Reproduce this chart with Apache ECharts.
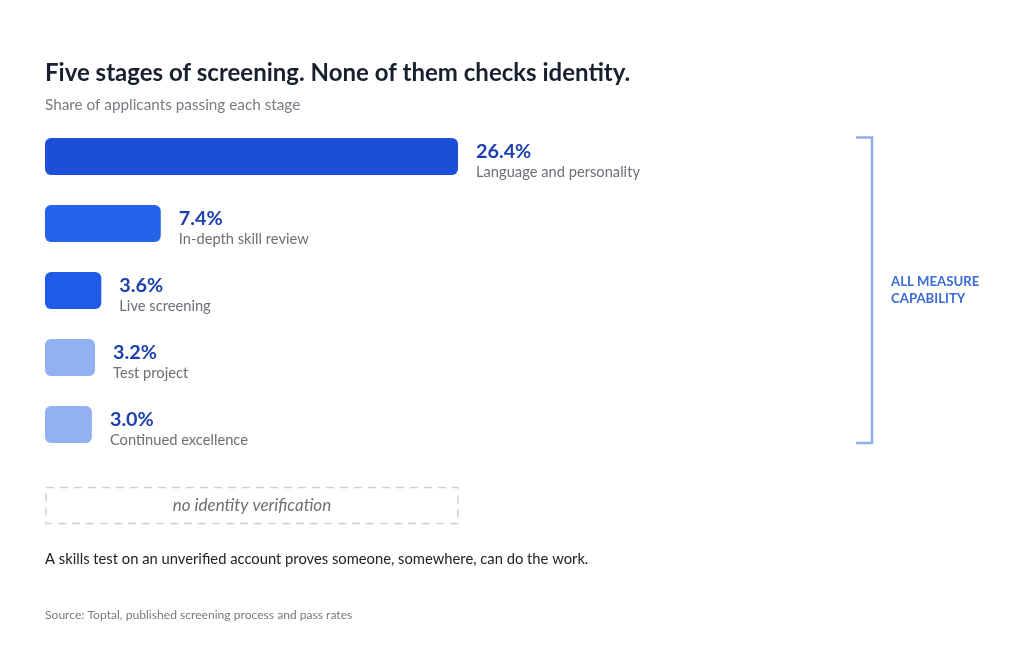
<!DOCTYPE html>
<html>
<head>
    <meta charset="utf-8">
    <script src="https://cdn.jsdelivr.net/npm/echarts@6/dist/echarts.min.js"></script>
    <style>
        html, body { margin: 0; padding: 0; background: #fff; }
    </style>
</head>
<body>
<div id="main" style="width: 1024px;height:666px;"></div>
<script>
    // screening stages, top to bottom
    var stages = ['Language and personality', 'In-depth skill review', 'Live screening', 'Test project', 'Continued excellence'];
    var passRates = [26.4, 7.4, 3.6, 3.2, 3.0];

    var barColors = ['#1d4ed8', '#2563eb', '#1f5ae8', '#93b0f2', '#93b0f2'];
    var font = 'Lato, "Open Sans", sans-serif';

    var myChart = echarts.init(document.getElementById('main'));

    var option = {
        backgroundColor: '#ffffff',
        animation: false,
        title: {
            text: 'Five stages of screening. None of them checks identity.',
            subtext: 'Share of applicants passing each stage',
            left: 45,
            top: 61,
            padding: 0,
            itemGap: 13,
            textStyle: { fontFamily: font, fontSize: 24, fontWeight: 'bold', color: '#1a1f2e' },
            subtextStyle: { fontFamily: font, fontSize: 15.3, color: '#777b82' }
        },
        grid: { left: 45, top: 123, width: 413, height: 335 },
        xAxis: {
            type: 'value',
            min: 0,
            max: 26.4,
            show: false
        },
        yAxis: {
            type: 'category',
            data: stages,
            inverse: true,
            show: false
        },
        series: [{
            type: 'bar',
            barWidth: 37,
            data: passRates,
            itemStyle: {
                borderRadius: 6,
                color: function (p) { return barColors[p.dataIndex]; }
            },
            label: {
                show: true,
                position: 'right',
                distance: 18,
                offset: [0, 5],
                formatter: function (p) {
                    return '{v|' + p.value.toFixed(1) + '%}\n{c|' + p.name + '}';
                },
                rich: {
                    v: { fontFamily: font, fontSize: 19.8, fontWeight: 'bold', color: '#1e40af', lineHeight: 22 },
                    c: { fontFamily: font, fontSize: 14.7, color: '#6b6f76', lineHeight: 20 }
                }
            }
        }],
        graphic: [
            // bracket on the right
            {
                type: 'polyline',
                shape: { points: [[856, 137.5], [872, 137.5], [872, 443], [856, 443]] },
                style: { stroke: '#8eaee8', lineWidth: 2.5, fill: null }
            },
            {
                type: 'text',
                left: 891,
                top: 273,
                style: {
                    text: 'ALL MEASURE\nCAPABILITY',
                    fontFamily: font,
                    fontSize: 13.2,
                    fontWeight: 'bold',
                    lineHeight: 17,
                    fill: '#3a6bd6'
                }
            },
            // dashed box
            {
                type: 'rect',
                shape: { x: 46, y: 487.5, width: 412, height: 36 },
                style: { fill: null, stroke: '#d0d0d0', lineWidth: 1.5, lineDash: [8, 6] }
            },
            {
                type: 'text',
                x: 252,
                y: 505.5,
                style: {
                    text: 'no identity verification',
                    fontFamily: font,
                    fontSize: 17,
                    fontStyle: 'italic',
                    fill: '#707070',
                    align: 'center',
                    verticalAlign: 'middle'
                }
            },
            {
                type: 'text',
                left: 45,
                top: 552,
                style: {
                    text: 'A skills test on an unverified account proves someone, somewhere, can do the work.',
                    fontFamily: font,
                    fontSize: 14.75,
                    fill: '#222222'
                }
            },
            {
                type: 'text',
                left: 45,
                top: 609,
                style: {
                    text: 'Source: Toptal, published screening process and pass rates',
                    fontFamily: font,
                    fontSize: 12.1,
                    fill: '#7a7a7a'
                }
            }
        ]
    };

    myChart.setOption(option);
</script>
</body>
</html>
